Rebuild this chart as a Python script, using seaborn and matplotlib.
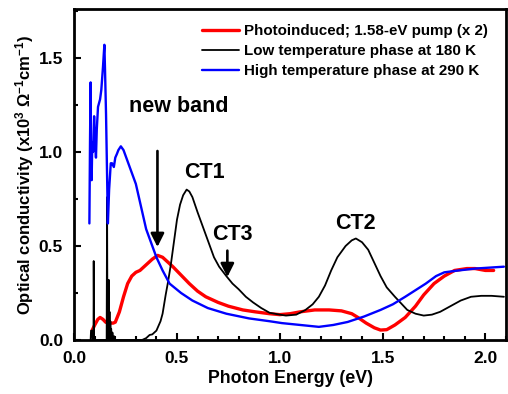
import matplotlib
matplotlib.use("Agg")
import matplotlib.pyplot as plt
import seaborn as sns
from matplotlib.ticker import MultipleLocator

# photoinduced spectrum (x 2), red
photo_e = [0.088, 0.10, 0.115, 0.126, 0.14, 0.153, 0.165, 0.177, 0.19, 0.20, 0.22, 0.24, 0.26, 0.28,
           0.30, 0.32, 0.35, 0.38, 0.406, 0.43, 0.48, 0.52, 0.56, 0.60, 0.64, 0.70, 0.75, 0.82,
           0.88, 0.95, 1.00, 1.05, 1.10, 1.17, 1.24, 1.30, 1.35, 1.38, 1.42, 1.46, 1.49, 1.52,
           1.56, 1.61, 1.66, 1.70, 1.75, 1.80, 1.85, 1.91, 1.95, 2.00, 2.04]
photo_s = [0.053, 0.08, 0.11, 0.12, 0.11, 0.095, 0.09, 0.09, 0.09, 0.095, 0.15, 0.23, 0.30, 0.34,
           0.36, 0.37, 0.40, 0.43, 0.45, 0.44, 0.39, 0.345, 0.30, 0.26, 0.23, 0.20, 0.18, 0.16,
           0.15, 0.14, 0.135, 0.14, 0.15, 0.16, 0.16, 0.155, 0.14, 0.12, 0.09, 0.065, 0.053, 0.055,
           0.08, 0.12, 0.18, 0.24, 0.30, 0.34, 0.37, 0.38, 0.38, 0.37, 0.37]

# low temperature phase, 180 K, black
low_e = [0.080, 0.082, 0.088, 0.090, 0.094, 0.095, 0.097, 0.100, 0.150, 0.158, 0.160, 0.162, 0.164,
         0.166, 0.168, 0.170, 0.172, 0.174, 0.176, 0.178, 0.180, 0.183, 0.186, 0.19, 0.195, 0.20,
         0.25, 0.30, 0.33, 0.35, 0.367, 0.38, 0.40, 0.42, 0.43, 0.445, 0.455, 0.47, 0.48, 0.49,
         0.50, 0.515, 0.53, 0.547, 0.56, 0.575, 0.60, 0.62, 0.64, 0.66, 0.68, 0.705, 0.74, 0.77,
         0.80, 0.835, 0.87, 0.91, 0.95, 1.00, 1.03, 1.08, 1.125, 1.16, 1.19, 1.22, 1.25, 1.28,
         1.32, 1.35, 1.37, 1.40, 1.43, 1.46, 1.49, 1.52, 1.56, 1.62, 1.66, 1.70, 1.74, 1.78,
         1.83, 1.88, 1.93, 1.98, 2.03, 2.09]
low_s = [0.0, 0.05, 0.05, 0.0, 0.0, 0.42, 0.0, 0.0, 0.0, 0.0, 0.76, 0.0, 0.30, 0.0,
         0.32, 0.0, 0.15, 0.0, 0.10, 0.0, 0.06, 0.0, 0.04, 0.0, 0.02, 0.0,
         0.0, 0.0, 0.0, 0.01, 0.027, 0.03, 0.05, 0.10, 0.14, 0.24, 0.30, 0.40, 0.48, 0.56,
         0.64, 0.72, 0.77, 0.80, 0.79, 0.76, 0.68, 0.62, 0.56, 0.50, 0.44, 0.39, 0.34, 0.30,
         0.27, 0.23, 0.20, 0.17, 0.145, 0.135, 0.13, 0.135, 0.16, 0.19, 0.23, 0.29, 0.37, 0.44,
         0.50, 0.53, 0.54, 0.52, 0.48, 0.41, 0.34, 0.28, 0.23, 0.16, 0.14, 0.13, 0.135, 0.15,
         0.18, 0.21, 0.23, 0.235, 0.235, 0.23]

# high temperature phase, 290 K, blue
high_e = [0.074, 0.077, 0.080, 0.082, 0.085, 0.088, 0.092, 0.097, 0.100, 0.106, 0.110, 0.116,
          0.126, 0.132, 0.140, 0.144, 0.147, 0.150, 0.155, 0.164, 0.170, 0.178, 0.184, 0.193,
          0.200, 0.208, 0.215, 0.227, 0.24, 0.27, 0.30, 0.35, 0.40, 0.43, 0.464, 0.52, 0.575,
          0.65, 0.74, 0.85, 0.95, 1.01, 1.10, 1.19, 1.26, 1.33, 1.41, 1.49, 1.55, 1.61, 1.66,
          1.71, 1.76, 1.80, 1.87, 1.95, 2.02, 2.09]
high_s = [0.62, 1.05, 1.37, 0.95, 0.85, 1.05, 1.00, 1.19, 1.10, 0.97, 1.12, 1.24,
          1.28, 1.33, 1.45, 1.52, 1.57, 1.44, 1.20, 0.62, 0.80, 0.94, 0.94, 0.92,
          0.97, 0.99, 1.01, 1.03, 1.01, 0.92, 0.83, 0.59, 0.44, 0.37, 0.30, 0.25, 0.21,
          0.17, 0.14, 0.115, 0.10, 0.09, 0.08, 0.07, 0.08, 0.096, 0.125, 0.16, 0.19, 0.23, 0.265,
          0.30, 0.34, 0.36, 0.37, 0.38, 0.385, 0.39]

labels = ["Photoinduced; 1.58-eV pump (x 2)",
          "Low temperature phase at 180 K",
          "High temperature phase at 290 K"]

sns.set_style("ticks")
plt.rcParams['font.family'] = ['Liberation Sans', 'DejaVu Sans']
plt.rcParams['font.weight'] = 'bold'
plt.rcParams['mathtext.fontset'] = 'custom'
plt.rcParams['mathtext.rm'] = 'Liberation Sans:bold'
plt.rcParams['mathtext.it'] = 'Liberation Sans:bold'
plt.rcParams['mathtext.bf'] = 'Liberation Sans:bold'
for key in ['text.color', 'axes.labelcolor', 'xtick.color', 'ytick.color', 'axes.edgecolor']:
    plt.rcParams[key] = 'black'

fig, ax = plt.subplots(figsize=(5.08, 3.94), dpi=100)
fig.subplots_adjust(left=0.146, right=0.996, bottom=0.137, top=0.977)

sns.lineplot(x=photo_e, y=photo_s, color='#ff0000', lw=2.4, estimator=None, sort=False, ax=ax, label=labels[0])
sns.lineplot(x=low_e, y=low_s, color='black', lw=1.3, estimator=None, sort=False, ax=ax, label=labels[1])
sns.lineplot(x=high_e, y=high_s, color='#0000ff', lw=1.7, estimator=None, sort=False, ax=ax, label=labels[2])

ax.set_xlim(0, 2.1)
ax.set_ylim(0, 1.76)
ax.xaxis.set_major_locator(MultipleLocator(0.5))
ax.xaxis.set_minor_locator(MultipleLocator(0.1))
ax.yaxis.set_major_locator(MultipleLocator(0.5))
ax.yaxis.set_minor_locator(MultipleLocator(0.25))
ax.tick_params(which='both', direction='in', width=1.5, pad=8)
ax.tick_params(which='major', length=5, labelsize=12.5)
ax.tick_params(which='minor', length=3)
for sp in ax.spines.values():
    sp.set_linewidth(2)

ax.set_xlabel("Photon Energy (eV)", fontsize=12.8, fontweight='bold', labelpad=3)
ax.set_ylabel(r"Optical conductivity (x10$^{3}$ $\Omega^{-1}$cm$^{-1}$)", fontsize=12, fontweight='bold',
              labelpad=2)

ax.legend(loc='upper right', bbox_to_anchor=(0.958, 0.955), frameon=False, fontsize=10.9,
          handlelength=2.45, labelspacing=0.4, borderaxespad=0, borderpad=0, handletextpad=0.35)

arrow = dict(arrowstyle='-|>', color='black', lw=1.9, mutation_scale=20)
ax.annotate("", xy=(0.405, 0.48), xytext=(0.405, 1.02), arrowprops=arrow)
ax.annotate("", xy=(0.745, 0.32), xytext=(0.745, 0.49), arrowprops=arrow)
ax.text(0.51, 1.24, "new band", fontsize=15.5, fontweight='bold', ha='center', va='center')
ax.text(0.633, 0.89, "CT1", fontsize=15.5, fontweight='bold', ha='center', va='center')
ax.text(0.77, 0.56, "CT3", fontsize=15.5, fontweight='bold', ha='center', va='center')
ax.text(1.37, 0.62, "CT2", fontsize=15.5, fontweight='bold', ha='center', va='center')

fig.savefig("out.png", dpi=100)
